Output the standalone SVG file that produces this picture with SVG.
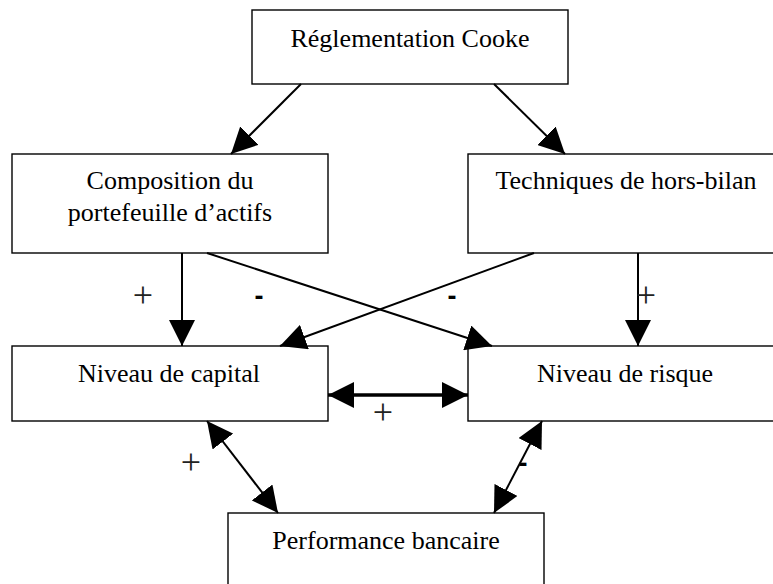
<svg xmlns="http://www.w3.org/2000/svg" width="773" height="584" viewBox="0 0 773 584">
<style>
.box{fill:#fff;stroke:#000;stroke-width:1.4}
.lbl{font-family:"Liberation Serif","Times New Roman",serif;font-size:26px;fill:#000;text-anchor:middle}
.plus{font-family:"Liberation Serif","Times New Roman",serif;font-size:36px;fill:#222;text-anchor:middle}
.minus{font-family:"Liberation Sans",Arial,sans-serif;font-weight:bold;font-size:27px;fill:#000;text-anchor:middle}
.ln{stroke:#000;stroke-width:2;fill:none}
.thick{stroke:#000;stroke-width:3.5;fill:none}
</style>
<defs>
<marker id="ah" markerUnits="userSpaceOnUse" markerWidth="26" markerHeight="26" viewBox="0 0 25 25" refX="25" refY="12.5" orient="auto-start-reverse">
<path d="M0,0 L25,12.5 L0,25 z" fill="#000"/>
</marker>
</defs>
<rect width="773" height="584" fill="#fff"/>
<g id="n-cooke"><rect class="box" x="252" y="10" width="316" height="74"/><text class="lbl" x="410" y="47">Réglementation Cooke</text></g>
<g id="n-composition"><rect class="box" x="12" y="154" width="316" height="99"/><text class="lbl" x="170" y="189">Composition du</text><text class="lbl" x="170" y="221">portefeuille d’actifs</text></g>
<g id="n-techniques"><rect class="box" x="468" y="154" width="316" height="99"/><text class="lbl" x="626" y="189">Techniques de hors-bilan</text></g>
<g id="n-capital"><rect class="box" x="12" y="346" width="316" height="75"/><text class="lbl" x="169" y="382">Niveau de capital</text></g>
<g id="n-risque"><rect class="box" x="468" y="346" width="316" height="75"/><text class="lbl" x="625" y="382">Niveau de risque</text></g>
<g id="n-performance"><rect class="box" x="228" y="513" width="316" height="80"/><text class="lbl" x="386" y="549">Performance bancaire</text></g>
<g id="connectors">
<line class="ln" x1="301" y1="84" x2="231" y2="154" marker-end="url(#ah)"/>
<line class="ln" x1="494" y1="84" x2="565" y2="154" marker-end="url(#ah)"/>
<line class="ln" x1="182" y1="253" x2="182" y2="346" marker-end="url(#ah)"/>
<line class="ln" x1="638" y1="253" x2="638" y2="346" marker-end="url(#ah)"/>
<line class="ln" x1="207" y1="253" x2="492" y2="346" marker-end="url(#ah)"/>
<line class="ln" x1="534" y1="253" x2="280" y2="346" marker-end="url(#ah)"/>
<line class="thick" x1="328" y1="395" x2="468" y2="395" marker-start="url(#ah)" marker-end="url(#ah)"/>
<line class="ln" x1="207" y1="421" x2="278" y2="513" marker-start="url(#ah)" marker-end="url(#ah)"/>
<line class="ln" x1="542" y1="421" x2="494" y2="513" marker-start="url(#ah)" marker-end="url(#ah)"/>
<text class="plus" x="143" y="307">+</text>
<text class="minus" x="259" y="305">-</text>
<text class="minus" x="452" y="305">-</text>
<text class="plus" x="646" y="307">+</text>
<text class="plus" x="383" y="424">+</text>
<text class="plus" x="191" y="474">+</text>
<text class="minus" x="523" y="472">-</text>
</g>
</svg>
